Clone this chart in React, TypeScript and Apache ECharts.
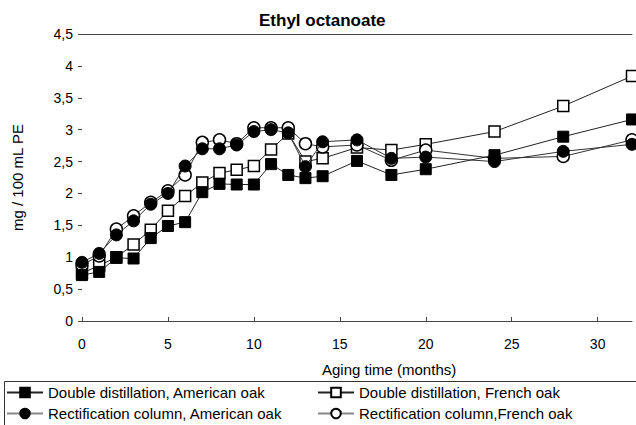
import React, { useEffect, useRef } from "react";
import * as echarts from "echarts";

const months = [0, 1, 2, 3, 4, 5, 6, 7, 8, 9, 10, 11, 12, 13, 14, 16, 18, 20, 24, 28, 32];

const ddAmerican = [0.72, 0.77, 0.99, 0.98, 1.3, 1.49, 1.55, 2.02, 2.15, 2.14, 2.14, 2.46, 2.29, 2.24, 2.27, 2.51, 2.29, 2.38, 2.6, 2.89, 3.16];
const ddFrench = [0.75, 0.87, 1.0, 1.2, 1.43, 1.73, 1.96, 2.17, 2.32, 2.37, 2.43, 2.69, 2.94, 2.5, 2.55, 2.72, 2.68, 2.77, 2.97, 3.37, 3.84];
const rcAmerican = [0.92, 1.06, 1.35, 1.57, 1.83, 2.0, 2.43, 2.7, 2.7, 2.76, 2.97, 3.0, 2.95, 2.42, 2.81, 2.84, 2.55, 2.57, 2.5, 2.66, 2.77];
const rcFrench = [0.88, 1.02, 1.44, 1.65, 1.86, 2.04, 2.29, 2.8, 2.84, 2.78, 3.03, 3.03, 3.03, 2.78, 2.73, 2.76, 2.52, 2.68, 2.55, 2.58, 2.84];

const seriesNames = [
  "Double distillation, American oak",
  "Double distillation, French oak",
  "Rectification column, American oak",
  "Rectification column,French oak",
];

const FONT = "'Liberation Sans', Arial, sans-serif";

const pair = (ys: number[]) => months.map((m, i) => [m, ys[i]]);

export default function App() {
  const ref = useRef<HTMLDivElement>(null);
  useEffect(() => {
    document.body.style.margin = "0";
    if (!ref.current) return;
    const chart = echarts.init(ref.current, null, { renderer: "svg" });
    const mk = (
      name: string,
      ys: number[],
      symbol: string,
      size: number,
      filled: boolean,
      lineColor: string
    ) => ({
      name,
      type: "line",
      data: pair(ys),
      symbol,
      symbolSize: size,
      showSymbol: true,
      lineStyle: { width: 1, color: lineColor },
      itemStyle: filled
        ? { color: "#000", borderColor: "#000", borderWidth: 1 }
        : { color: "#fff", borderColor: "#000", borderWidth: 1.5 },
      emphasis: { disabled: true },
      z: filled ? 3 : 2,
    });
    const legendText = { fontFamily: FONT, fontSize: 15, color: "#000" };
    const leg = (name: string, left: number, top: number, gray: boolean) => ({
      orient: "horizontal",
      left,
      top,
      itemWidth: 36,
      itemHeight: 12,
      itemGap: 0,
      padding: 0,
      textStyle: legendText,
      data: [gray ? { name, lineStyle: { color: "#888" } } : { name }],
    });
    chart.setOption({
      animation: false,
      title: {
        text: "Ethyl octanoate",
        left: 254,
        top: 7,
        textStyle: { fontFamily: FONT, fontSize: 17, fontWeight: "bold", color: "#000" },
      },
      grid: { left: 82, right: 4, top: 34, bottom: 104, containLabel: false },
      xAxis: [
        {
          type: "value",
          min: 0,
          max: 32,
          interval: 5,
          axisLine: { show: true, lineStyle: { color: "#444", width: 1 } },
          axisTick: { show: true, inside: true, length: 4, lineStyle: { color: "#444" } },
          axisLabel: {
            showMaxLabel: false,
            margin: 16,
            fontFamily: FONT,
            fontSize: 14,
            color: "#000",
          },
          splitLine: { show: false },
        },
        {
          type: "value",
          position: "top",
          min: 0,
          max: 32,
          axisLine: { show: true, lineStyle: { color: "#444", width: 1 } },
          axisTick: { show: false },
          axisLabel: { show: false },
          splitLine: { show: false },
        },
      ],
      yAxis: {
        type: "value",
        min: 0,
        max: 4.5,
        interval: 0.5,
        name: "mg / 100 mL PE",
        nameLocation: "middle",
        nameGap: 57,
        nameTextStyle: { fontFamily: FONT, fontSize: 15, color: "#000" },
        axisLine: { show: false },
        axisTick: { show: true, length: 4, lineStyle: { color: "#444" } },
        axisLabel: {
          margin: 9,
          fontFamily: FONT,
          fontSize: 14,
          color: "#000",
          formatter: (v: number) => String(v).replace(".", ","),
        },
        splitLine: { show: false },
      },
      legend: [
        leg(seriesNames[0], 6, 385, false),
        leg(seriesNames[2], 6, 406, true),
        leg(seriesNames[1], 317, 385, false),
        leg(seriesNames[3], 317, 406, true),
      ],
      graphic: [
        {
          type: "text",
          left: 322,
          top: 362,
          style: { text: "Aging time (months)", font: `15px ${FONT}`, fill: "#000" },
        },
        {
          type: "rect",
          shape: { x: 4.5, y: 381.5, width: 640, height: 60 },
          style: { fill: "none", stroke: "#333", lineWidth: 1 },
          silent: true,
        },
      ],
      series: [
        mk(seriesNames[1], ddFrench, "rect", 11, false, "#222"),
        mk(seriesNames[0], ddAmerican, "rect", 11, true, "#222"),
        mk(seriesNames[3], rcFrench, "circle", 12, false, "#333"),
        mk(seriesNames[2], rcAmerican, "circle", 12, true, "#333"),
      ],
    });
    return () => chart.dispose();
  }, []);
  return <div ref={ref} style={{ width: 636, height: 425 }} />;
}
